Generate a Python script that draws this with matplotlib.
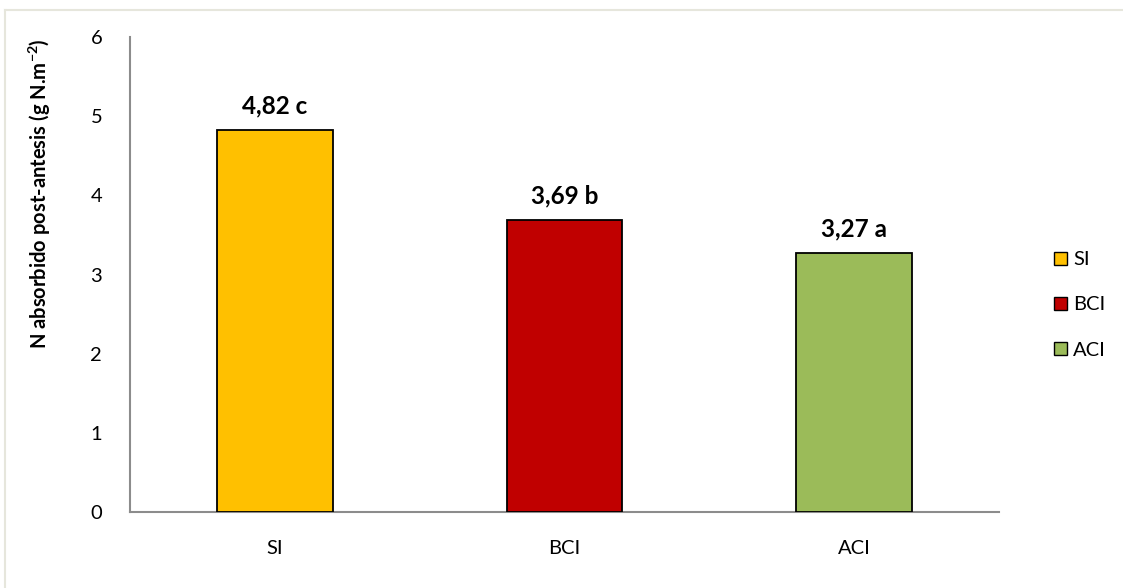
import matplotlib.pyplot as plt
from matplotlib.lines import Line2D
from matplotlib.patches import Patch

categories = ['SI', 'BCI', 'ACI']
values = [4.82, 3.69, 3.27]
letters = ['c', 'b', 'a']
colors = ['#FFC000', '#C00000', '#9BBB59']

plt.rcParams['font.family'] = ['Lato', 'DejaVu Sans']

W, H = 1123, 588
fig = plt.figure(figsize=(W / 100, H / 100), dpi=100)
ax = fig.add_axes([130 / W, 1 - 512 / H, 869 / W, 475 / H])

x = range(len(categories))
ax.bar(x, values, width=0.4, color=colors, edgecolor='black', linewidth=1.3, zorder=3)

for xi, v, letter in zip(x, values, letters):
    label = f'{v:.2f}'.replace('.', ',') + f' {letter}'
    ax.annotate(label, (xi, v), xytext=(0, 9), textcoords='offset points',
                ha='center', va='bottom', fontsize=17.5, fontweight='bold')

ax.set_xlim(-0.5, len(categories) - 0.5)
ax.set_ylim(0, 6)
ax.set_xticks(list(x))
ax.set_xticklabels(categories)
ax.set_yticks(range(7))
ax.tick_params(axis='both', length=0, labelsize=14.5)
ax.tick_params(axis='x', pad=20)
ax.tick_params(axis='y', pad=20)

for side in ['top', 'right']:
    ax.spines[side].set_visible(False)
for side in ['left', 'bottom']:
    ax.spines[side].set_color('#8c8c8c')
    ax.spines[side].set_linewidth(1.5)

ax.set_ylabel('N absorbido post-antesis (g N.m$^{\\mathregular{-2}}$)',
              fontsize=14.5, fontweight='bold')
ax.yaxis.set_label_coords(-77 / 869, 0.67)

handles = [Patch(facecolor=c, edgecolor='black', linewidth=1.0) for c in colors]
fig.legend(handles, categories, loc='center left', bbox_to_anchor=(1036 / W, 1 - 305 / H),
           frameon=False, fontsize=14.5, handlelength=0.65, handleheight=0.65,
           handletextpad=0.3, labelspacing=1.4)

# thin outer frame along the top and left edges
fig.add_artist(Line2D([5 / W, 1], [1 - 10 / H, 1 - 10 / H], transform=fig.transFigure,
                      color='#e6e6dc', linewidth=1.5))
fig.add_artist(Line2D([5 / W, 5 / W], [0, 1 - 10 / H], transform=fig.transFigure,
                      color='#e6e6dc', linewidth=1.5))

fig.savefig('out.png', dpi=100)
